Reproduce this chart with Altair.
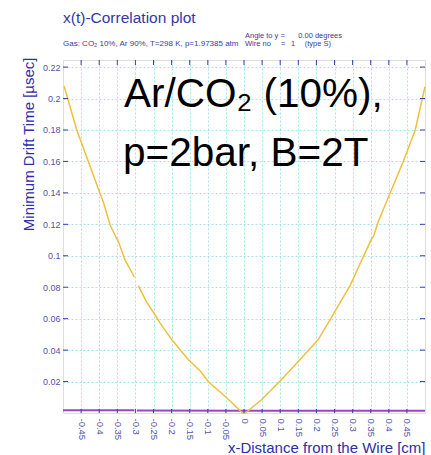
import altair as alt
import pandas as pd

# Drift-time curve t(x); None marks the missing sample near x = -0.3 cm
drift_x = [-0.497, -0.462, -0.430, -0.400, -0.389, -0.370, -0.352, -0.347, -0.329, -0.303,
           -0.298,
           -0.292, -0.270, -0.246, -0.232, -0.200, -0.154, -0.120, -0.099, -0.048, -0.004,
           0.004, 0.049, 0.099, 0.155, 0.205, 0.238, 0.265, 0.293, 0.330, 0.353, 0.358,
           0.371, 0.394, 0.440, 0.473, 0.500]
drift_t = [0.208, 0.180, 0.160, 0.141, 0.1345, 0.1197, 0.111, 0.109, 0.0975, 0.0865,
           None,
           0.081, 0.071, 0.0625, 0.0573, 0.0467, 0.034, 0.0265, 0.020, 0.0097, 0.0,
           0.0, 0.0086, 0.0202, 0.034, 0.0467, 0.0594, 0.070, 0.081, 0.0996, 0.111, 0.1125,
           0.1218, 0.1345, 0.160, 0.180, 0.2075]

# Second trace lying just above zero, with the same gap
base_x = [-0.500, -0.303, -0.298, -0.296, 0.0, 0.500]
base_t = [0.0018, 0.0018, None, 0.0016, 0.0014, 0.0014]

x_ticks = [-0.45, -0.4, -0.35, -0.3, -0.25, -0.2, -0.15, -0.1, -0.05, 0,
           0.05, 0.1, 0.15, 0.2, 0.25, 0.3, 0.35, 0.4, 0.45]
y_ticks = [0.02, 0.04, 0.06, 0.08, 0.1, 0.12, 0.14, 0.16, 0.18, 0.2, 0.22]

W, H = 362, 353
FRAME = "#3a3ab8"
LABEL = "#5252a8"
TITLE = "#2e2ea8"
FONT = "Liberation Sans, Arial, sans-serif"


def to_rows(xs, ts, name):
    rows, seg = [], 0
    for x, t in zip(xs, ts):
        if t is None:
            seg += 1
            continue
        rows.append({"x": x, "t": t, "series": name, "seg": f"{name}-{seg}"})
    return rows


curves = pd.DataFrame(to_rows(base_x, base_t, "base") + to_rows(drift_x, drift_t, "drift"))
xt = pd.DataFrame({"x": x_ticks})
yt = pd.DataFrame({"t": y_ticks})

x_scale = alt.Scale(domain=[-0.5, 0.5], nice=False, zero=False)
y_scale = alt.Scale(domain=[0, 0.2245], nice=False, zero=False)

x_axis = alt.Axis(
    values=x_ticks, labelExpr="toString(datum.value)", labelAngle=90,
    labelFontSize=9.5, labelColor=LABEL, labelFont=FONT, labelPadding=5,
    ticks=False, domain=False,
    grid=True, gridColor="#a6e3ea", gridDash=[2, 2], gridWidth=1,
    title="x-Distance from the Wire [cm]", titleFont=FONT, titleFontSize=15,
    titleFontWeight="normal", titleColor=TITLE, titleAlign="right",
    titleBaseline="alphabetic", titleX=W, titleY=39,
)
y_axis = alt.Axis(
    values=y_ticks, labelExpr="toString(datum.value)",
    labelFontSize=9, labelColor=LABEL, labelFont=FONT, labelPadding=3,
    ticks=False, domain=False,
    grid=True, gridColor="#a6e3ea", gridDash=[2, 2], gridWidth=1,
    title="Minimum Drift Time [µsec]", titleFont=FONT, titleFontSize=15,
    titleFontWeight="normal", titleColor=TITLE, titleAngle=-90,
    titleAlign="right", titleBaseline="alphabetic", titleX=-30, titleY=-3,
)


def X():
    return alt.X("x:Q", scale=x_scale, axis=x_axis)


def Y():
    return alt.Y("t:Q", scale=y_scale, axis=y_axis)


lines = alt.Chart(curves).mark_line().encode(
    x=X(),
    y=Y(),
    detail="seg:N",
    color=alt.Color("series:N", scale=alt.Scale(domain=["base", "drift"],
                                                range=["#9a44cc", "#efc03c"]), legend=None),
    size=alt.Size("series:N", scale=alt.Scale(domain=["base", "drift"], range=[2, 1.5]),
                  legend=None),
)

# Inward tick marks on all four sides of the frame
tick_top = alt.Chart(xt).mark_rule(color=FRAME, strokeWidth=1).encode(
    x=X(), y=alt.value(0), y2=alt.value(5))
tick_bottom = alt.Chart(xt).mark_rule(color=FRAME, strokeWidth=1).encode(
    x=X(), y=alt.value(H), y2=alt.value(H - 4))
tick_left = alt.Chart(yt).mark_rule(color=FRAME, strokeWidth=1).encode(
    y=Y(), x=alt.value(0), x2=alt.value(5))
tick_right = alt.Chart(yt).mark_rule(color=FRAME, strokeWidth=1).encode(
    y=Y(), x=alt.value(W), x2=alt.value(W - 5))

one = pd.DataFrame({"k": [0]})


def label(text, x, y, size, color, align="left"):
    return alt.Chart(one).mark_text(
        text=text, font=FONT, fontSize=size, color=color, align=align,
        baseline="alphabetic").encode(x=alt.value(x), y=alt.value(y))


HDR = "#3a3aa0"
header = [
    label("x(t)-Correlation plot", 0, -37.5, 15.5, "#3636a6"),
    label("Gas: CO₂ 10%, Ar 90%, T=298 K, p=1.97385 atm", 0, -14, 8, HDR),
    label("Angle to y =", 182, -22.5, 7.5, HDR),
    label("0.00 degrees", 279, -22.5, 7.5, HDR, align="right"),
    label("Wire no", 182, -14, 7.5, HDR),
    label("=", 218, -14, 7.5, HDR),
    label("1", 228, -14, 7.5, HDR),
    label("(type S)", 268, -14, 7.5, HDR, align="right"),
]

note = [
    label("Ar/CO₂ (10%),", 61, 47, 40.5, "#000000"),
    label("p=2bar, B=2T", 60, 106, 40.5, "#000000"),
]

chart = alt.layer(
    lines, tick_top, tick_bottom, tick_left, tick_right, *header, *note
).properties(
    width=W, height=H,
    autosize=alt.AutoSizeParams(type="none"),
    padding={"left": 63, "top": 60, "right": 6, "bottom": 42},
).configure_view(
    stroke=FRAME, strokeWidth=2
).configure(background="white")

chart.save("out.html", embed_options={"renderer": "svg", "actions": False})
